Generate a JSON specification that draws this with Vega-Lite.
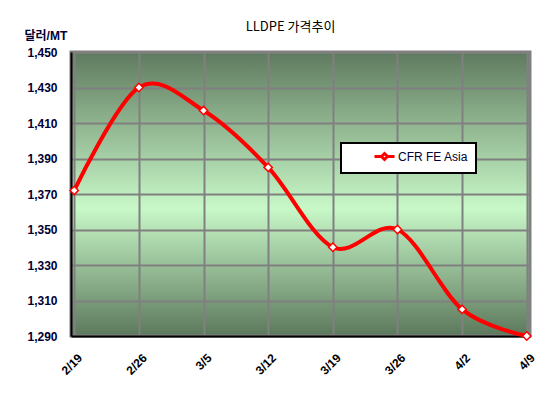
{
  "$schema": "https://vega.github.io/schema/vega-lite/v6.json",
  "width": 459,
  "height": 284,
  "autosize": "none",
  "padding": {"left": 71, "top": 52, "right": 27, "bottom": 60},
  "background": "white",
  "title": {
    "text": "LLDPE 가격추이",
    "font": "Noto Sans CJK KR",
    "fontSize": 13,
    "fontWeight": "normal",
    "color": "black",
    "anchor": "middle",
    "dx": -10,
    "offset": -5
  },
  "data": {
    "values": [
      {"date": "2/19", "price": 1372, "series": "CFR FE Asia"},
      {"date": "2/26", "price": 1430, "series": "CFR FE Asia"},
      {"date": "3/5", "price": 1417, "series": "CFR FE Asia"},
      {"date": "3/12", "price": 1385, "series": "CFR FE Asia"},
      {"date": "3/19", "price": 1340, "series": "CFR FE Asia"},
      {"date": "3/26", "price": 1350, "series": "CFR FE Asia"},
      {"date": "4/2", "price": 1305, "series": "CFR FE Asia"},
      {"date": "4/9", "price": 1290, "series": "CFR FE Asia"}
    ]
  },
  "encoding": {
    "x": {
      "field": "date",
      "type": "ordinal",
      "sort": null,
      "scale": {"type": "point", "padding": 0.05},
      "axis": {
        "title": null,
        "labelAngle": -45,
        "labelFont": "Liberation Sans",
        "labelFontWeight": "bold",
        "labelFontSize": 12,
        "labelColor": "black",
        "labelPadding": 16,
        "labelOffset": 2,
        "domainColor": "black",
        "domainWidth": 2,
        "ticks": false,
        "grid": true,
        "gridColor": "#808080",
        "gridWidth": 2
      }
    },
    "y": {
      "field": "price",
      "type": "quantitative",
      "scale": {"domain": [1290, 1450], "nice": false, "zero": false},
      "axis": {
        "title": "달러/MT",
        "titleAngle": 0,
        "titleX": -47,
        "titleY": -13,
        "titleAlign": "left",
        "titleBaseline": "alphabetic",
        "titleFont": "Liberation Sans, Noto Sans CJK KR",
        "titleFontSize": 12,
        "titleFontWeight": "bold",
        "titleColor": "#000033",
        "values": [1290, 1310, 1330, 1350, 1370, 1390, 1410, 1430, 1450],
        "format": ",.0f",
        "labelFont": "Liberation Sans",
        "labelFontWeight": "bold",
        "labelFontSize": 12,
        "labelColor": "#000033",
        "labelPadding": 14,
        "ticks": false,
        "domainColor": "black",
        "domainWidth": 2,
        "grid": true,
        "gridColor": "#808080",
        "gridWidth": 2
      }
    }
  },
  "layer": [
    {
      "mark": {"type": "line", "interpolate": "cardinal", "strokeWidth": 4},
      "encoding": {
        "color": {
          "field": "series",
          "type": "nominal",
          "scale": {"range": ["#ff0000"]},
          "legend": {
            "title": null,
            "orient": "none",
            "legendX": 270,
            "legendY": 91,
            "fillColor": "white",
            "strokeColor": "black",
            "padding": 7,
            "symbolOffset": 30,
            "symbolType": "M-2,0H-0.6M0.6,0H2M-0.6,0L0,-0.6L0.6,0L0,0.6Z",
            "symbolSize": 100,
            "symbolStrokeWidth": 3,
            "symbolFillColor": "white",
            "labelFont": "Liberation Sans",
            "labelFontSize": 12,
            "labelColor": "#000033",
            "labelOffset": 7,
            "labelExpr": "datum.label + '  '"
          }
        }
      }
    },
    {
      "mark": {
        "type": "point",
        "shape": "diamond",
        "filled": true,
        "color": "white",
        "stroke": "#ff0000",
        "strokeWidth": 1.5,
        "size": 70,
        "opacity": 1
      }
    }
  ],
  "config": {
    "view": {
      "stroke": "#808080",
      "strokeWidth": 3,
      "fill": {
        "gradient": "linear",
        "x1": 0, "y1": 0, "x2": 0, "y2": 1,
        "stops": [
          {"offset": 0, "color": "#5f7a5f"},
          {"offset": 0.55, "color": "#c8f8c8"},
          {"offset": 1, "color": "#5c785c"}
        ]
      }
    },
    "legend": {"strokeWidth": 2}
  }
}
